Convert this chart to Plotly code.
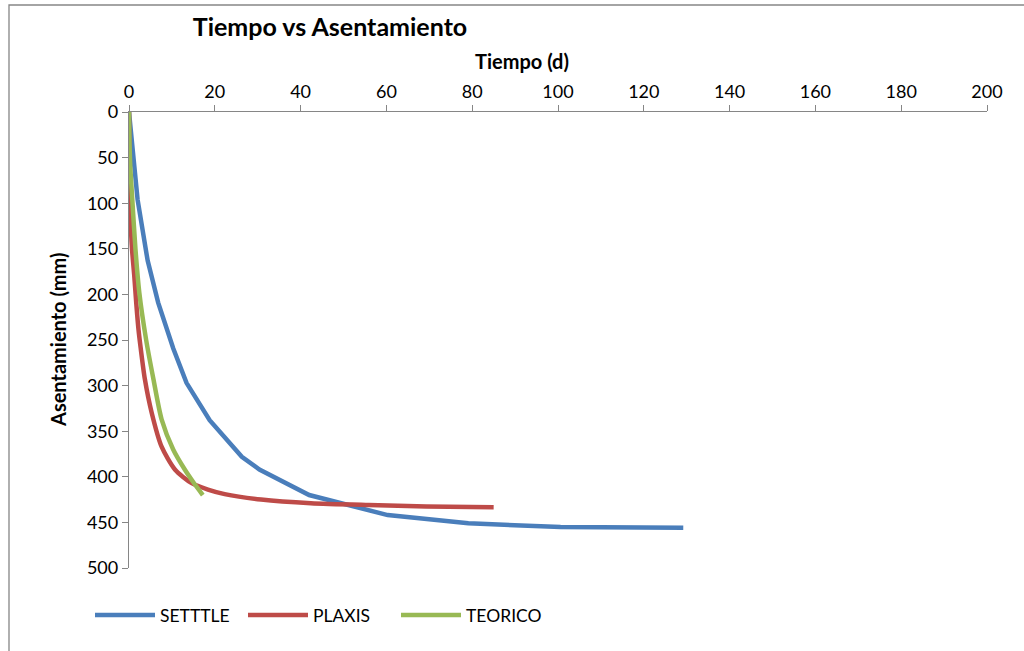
import plotly.graph_objects as go

# Data
settle_t = [0, 2.0, 4.35, 6.8, 10.3, 13.4, 18.8, 26.3, 30.4, 42.0, 60.3, 79.1, 100.6, 129.2]
settle_s = [0, 96, 163, 209, 259, 297, 338, 378, 392, 420, 442, 451, 455, 456]

plaxis_t = [0, 0.1, 0.3, 0.7, 1.2, 1.7, 2.2, 2.7, 3.7, 5.3, 7.6, 10.7, 14.6, 18.4, 22.3, 30.8, 42.4, 55.9, 69.3, 85.0]
plaxis_s = [0, 60, 110, 150, 178, 210, 238, 258, 293, 330, 367, 392, 407, 414, 419, 425, 429, 431, 432.5, 433.3]

teorico_t = [0, 0.1, 0.3, 0.77, 1.5, 2.4, 4.0, 5.7, 7.6, 10.3, 13.0, 15.0, 17.2]
teorico_s = [0, 30, 60, 96, 150, 198, 250, 293, 337, 370, 392, 406, 420]

x_ticks = [0, 20, 40, 60, 80, 100, 120, 140, 160, 180, 200]
y_ticks = [0, 50, 100, 150, 200, 250, 300, 350, 400, 450, 500]

FONT = "Lato"
AXC = "#868686"

fig = go.Figure()
fig.add_trace(go.Scatter(x=settle_t, y=settle_s, mode="lines", name="SETTTLE",
                         line=dict(color="#4A7EBB", width=4.5)))
fig.add_trace(go.Scatter(x=plaxis_t, y=plaxis_s, mode="lines", name="PLAXIS",
                         line=dict(color="#BE4B48", width=4.5, shape="spline", smoothing=0.7)))
fig.add_trace(go.Scatter(x=teorico_t, y=teorico_s, mode="lines", name="TEORICO",
                         line=dict(color="#98B954", width=4.5, shape="spline", smoothing=0.7)))

W, H = 1024, 651
L, R, T, B = 129, 987, 112, 568

def px(xp):
    return (xp - L) / (R - L)

def py(yp):
    return (B - yp) / (B - T)

fig.update_layout(
    width=W, height=H,
    margin=dict(l=L, r=W - R, t=T, b=H - B),
    paper_bgcolor="white", plot_bgcolor="white",
    font=dict(family=FONT, color="black", size=18),
    title=dict(text="<b>Tiempo vs Asentamiento</b>", x=330 / W, y=1 - 27 / H,
               xref="container", yref="container", xanchor="center", yanchor="middle",
               font=dict(family=FONT, size=25, color="black")),
    xaxis=dict(side="top", range=[0, 200], tickvals=x_ticks, ticks="outside", ticklen=6,
               tickcolor=AXC, showline=True, linecolor=AXC, linewidth=1.3,
               showgrid=False, zeroline=False, tickfont=dict(size=18, family=FONT)),
    yaxis=dict(range=[500, 0], tickvals=y_ticks, ticks="outside", ticklen=6,
               tickcolor=AXC, showline=True, linecolor=AXC, linewidth=1.3,
               showgrid=False, zeroline=False, tickfont=dict(size=18, family=FONT)),
    showlegend=True,
    legend=dict(orientation="h", x=px(90), y=py(615), xanchor="left", yanchor="middle",
                font=dict(size=17.5, family=FONT), entrywidth=78, entrywidthmode="pixels",
                itemwidth=60, bgcolor="rgba(0,0,0,0)"),
    annotations=[
        dict(text="<b>Tiempo (d)</b>", x=px(522), y=py(61), xref="paper", yref="paper",
             showarrow=False, xanchor="center", yanchor="middle",
             font=dict(size=20, family=FONT)),
        dict(text="<b>Asentamiento (mm)</b>", x=px(58), y=py(340), xref="paper", yref="paper",
             showarrow=False, xanchor="center", yanchor="middle", textangle=-90,
             font=dict(size=20, family=FONT)),
    ],
    shapes=[
        dict(type="rect", xref="paper", yref="paper", x0=px(9), x1=px(1040), y0=py(5), y1=py(670),
             line=dict(color=AXC, width=1.3), fillcolor="rgba(0,0,0,0)", layer="below"),
    ],
)

fig.write_html("out.html")
